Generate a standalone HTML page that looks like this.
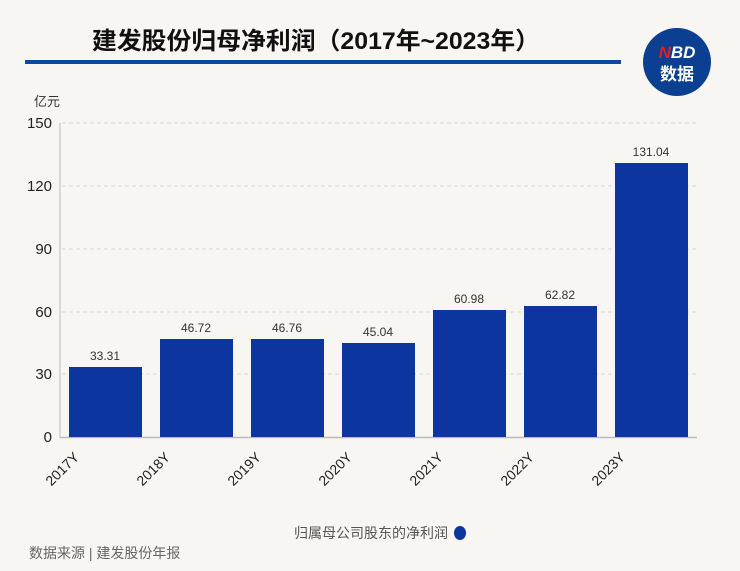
<!DOCTYPE html>
<html><head><meta charset="utf-8"><style>
body{margin:0;background:#f8f6f2;}
svg{display:block;font-family:"Liberation Sans","Noto Sans CJK SC",sans-serif;}
</style></head><body>
<svg width="740" height="571" viewBox="0 0 740 571">
<rect width="740" height="571" fill="#f8f6f2"/>
<text x="92" y="49" font-size="24" font-weight="bold" fill="#111" textLength="448" lengthAdjust="spacingAndGlyphs">建发股份归母净利润（2017年~2023年）</text>
<rect x="25" y="60" width="596" height="4" fill="#0e47a1"/>
<circle cx="677" cy="62" r="34" fill="#0b3f91"/>
<text x="677" y="58" font-size="17" font-weight="bold" fill="#fff" text-anchor="middle" font-style="italic"><tspan fill="#e02020">N</tspan>BD</text>
<text x="677" y="80" font-size="17" font-weight="bold" fill="#fff" text-anchor="middle">数据</text>
<text x="34" y="106" font-size="13" fill="#333">亿元</text>
<g stroke="#d8d6d2" stroke-dasharray="4,3" stroke-width="1">
<line x1="62" x2="697" y1="123" y2="123"/><line x1="62" x2="697" y1="186" y2="186"/>
<line x1="62" x2="697" y1="249" y2="249"/><line x1="62" x2="697" y1="312" y2="312"/>
<line x1="62" x2="697" y1="374" y2="374"/>
</g>
<line x1="60" x2="60" y1="123" y2="438" stroke="#bbb"/>
<line x1="60" x2="697" y1="437.5" y2="437.5" stroke="#bbb" stroke-width="1.5"/>
<g font-size="15" fill="#222" text-anchor="end">
<text x="52" y="128">150</text><text x="52" y="191">120</text><text x="52" y="254">90</text>
<text x="52" y="317">60</text><text x="52" y="379">30</text><text x="52" y="442">0</text>
</g>
<g fill="#0d35a0">
<rect x="69" y="367" width="73" height="70"/>
<rect x="160" y="339" width="73" height="98"/>
<rect x="251" y="339" width="73" height="98"/>
<rect x="342" y="343" width="73" height="94"/>
<rect x="433" y="310" width="73" height="127"/>
<rect x="524" y="306" width="73" height="131"/>
<rect x="615" y="163" width="73" height="274"/>
</g>
<g font-size="12" fill="#333" text-anchor="middle">
<text x="105" y="360">33.31</text><text x="196" y="332">46.72</text><text x="287" y="332">46.76</text>
<text x="378" y="336">45.04</text><text x="469" y="303">60.98</text><text x="560" y="299">62.82</text>
<text x="651" y="156">131.04</text>
</g>
<g font-size="14" fill="#222" text-anchor="end">
<text transform="translate(80,458) rotate(-45)">2017Y</text>
<text transform="translate(171,458) rotate(-45)">2018Y</text>
<text transform="translate(262,458) rotate(-45)">2019Y</text>
<text transform="translate(353,458) rotate(-45)">2020Y</text>
<text transform="translate(444,458) rotate(-45)">2021Y</text>
<text transform="translate(535,458) rotate(-45)">2022Y</text>
<text transform="translate(626,458) rotate(-45)">2023Y</text>
</g>
<text x="448" y="538" font-size="14" fill="#555" text-anchor="end">归属母公司股东的净利润</text>
<ellipse cx="460" cy="533" rx="6" ry="7" fill="#0d35a0"/>
<text x="29" y="558" font-size="14" fill="#666">数据来源 | 建发股份年报</text>
</svg>
</body></html>
